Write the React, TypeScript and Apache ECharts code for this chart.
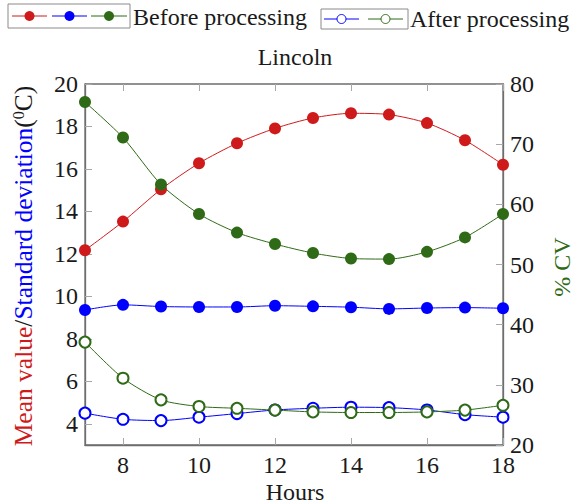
import React, { useEffect, useRef } from "react";
import * as echarts from "echarts";

const hours = [7, 8, 9, 10, 11, 12, 13, 14, 15, 16, 17, 18];
const meanBefore = [12.17, 13.52, 15.04, 16.27, 17.21, 17.91, 18.4, 18.62, 18.56, 18.16, 17.35, 16.2];
const sdBefore = [9.36, 9.6, 9.52, 9.5, 9.5, 9.56, 9.53, 9.49, 9.41, 9.45, 9.47, 9.44];
const cvBefore = [77.0, 71.1, 63.3, 58.4, 55.3, 53.4, 51.9, 51.0, 50.9, 52.1, 54.5, 58.4];
const sdAfter = [4.5, 4.21, 4.15, 4.31, 4.48, 4.65, 4.73, 4.78, 4.76, 4.65, 4.43, 4.31];
const cvAfter = [37.1, 31.1, 27.5, 26.4, 26.1, 25.8, 25.5, 25.4, 25.4, 25.5, 25.8, 26.6];
const xTicks = [8, 10, 12, 14, 16, 18];
const leftTicks = [4, 6, 8, 10, 12, 14, 16, 18, 20];

const RED = "#cf1a1c";
const BLUE = "#0000ff";
const GREEN = "#2f6b16";
const FONT = "Liberation Serif";
const AXIS = "#6e6e6e";
const TICK = "#a8a8a8";

export default function App() {
  const ref = useRef<HTMLDivElement>(null);
  useEffect(() => {
    if (!ref.current) return;
    const chart = echarts.init(ref.current, null, { renderer: "svg" });
    const pts = (ys: number[]) => hours.map((h, i) => [h, ys[i]]);
    const filled = (name: string, ys: number[], color: string, yi: number) => ({
      name,
      type: "line",
      yAxisIndex: yi,
      data: pts(ys),
      smooth: 0.25,
      symbol: "circle",
      symbolSize: 12,
      itemStyle: { color },
      lineStyle: { color, width: 1 },
    });
    const open = (name: string, ys: number[], color: string, yi: number) => ({
      name,
      type: "line",
      yAxisIndex: yi,
      data: pts(ys),
      smooth: 0.25,
      symbol: "emptyCircle",
      symbolSize: 11,
      itemStyle: { color, borderColor: color, borderWidth: 0.9 },
      lineStyle: { color, width: 1 },
    });
    const legendLine = (x1: number, x2: number, y: number, color: string, filledMark: boolean) => [
      { type: "line", shape: { x1, y1: y, x2, y2: y }, style: { stroke: color, lineWidth: 1 } },
      {
        type: "circle",
        shape: { cx: (x1 + x2) / 2, cy: y, r: filledMark ? 5 : 4.5 },
        style: filledMark ? { fill: color } : { fill: "#fff", stroke: color, lineWidth: 1 },
      },
    ];
    chart.setOption({
      animation: false,
      backgroundColor: "#fff",
      textStyle: { fontFamily: FONT },
      grid: { left: 85, right: 73, top: 84, bottom: 59, show: true, borderColor: AXIS, borderWidth: 1.3 },
      xAxis: [
        {
          type: "value",
          min: 7,
          max: 18,
          axisLine: { show: true, lineStyle: { color: AXIS, width: 1.3 } },
          axisTick: { inside: true, length: 7, customValues: xTicks, lineStyle: { color: TICK } },
          axisLabel: { customValues: xTicks, fontSize: 24, fontFamily: FONT, color: "#1a1a1a", margin: 8 },
          splitLine: { show: false },
        },
        {
          type: "value",
          position: "top",
          min: 7,
          max: 18,
          axisLine: { show: false },
          axisTick: { inside: true, length: 7, customValues: xTicks, lineStyle: { color: TICK } },
          axisLabel: { show: false },
          splitLine: { show: false },
        },
      ],
      yAxis: [
        {
          type: "value",
          min: 3,
          max: 20,
          position: "left",
          axisLine: { show: true, lineStyle: { color: AXIS, width: 1.3 } },
          axisTick: { inside: true, length: 7, customValues: leftTicks, lineStyle: { color: TICK } },
          axisLabel: { customValues: leftTicks, fontSize: 24, fontFamily: FONT, color: "#1a1a1a", margin: 7 },
          splitLine: { show: false },
        },
        {
          type: "value",
          min: 20,
          max: 80,
          interval: 10,
          position: "right",
          axisLine: { show: true, lineStyle: { color: AXIS, width: 1.3 } },
          axisTick: { inside: true, length: 7, lineStyle: { color: TICK } },
          axisLabel: { fontSize: 24, fontFamily: FONT, color: "#1a1a1a", margin: 7 },
          splitLine: { show: false },
        },
      ],
      series: [
        filled("Mean before", meanBefore, RED, 0),
        filled("SD before", sdBefore, BLUE, 0),
        filled("CV before", cvBefore, GREEN, 1),
        open("SD after", sdAfter, BLUE, 0),
        open("CV after", cvAfter, GREEN, 1),
      ],
      graphic: [
        { type: "rect", shape: { x: 8, y: 4, width: 122, height: 24 }, style: { fill: "none", stroke: "#8a8a8a", lineWidth: 1 } },
        ...legendLine(12, 47, 16, RED, true),
        ...legendLine(52, 87, 16, BLUE, true),
        ...legendLine(91, 127, 16, GREEN, true),
        { type: "text", x: 133, y: 17, style: { text: "Before processing", font: `24px "${FONT}"`, fill: "#1a1a1a", verticalAlign: "middle", align: "left" } },
        { type: "rect", shape: { x: 321, y: 9, width: 87, height: 20 }, style: { fill: "none", stroke: "#8a8a8a", lineWidth: 1 } },
        ...legendLine(324, 359, 19, BLUE, false),
        ...legendLine(368, 403, 19, GREEN, false),
        { type: "text", x: 410, y: 19, style: { text: "After processing", font: `24px "${FONT}"`, fill: "#1a1a1a", verticalAlign: "middle", align: "left" } },
        { type: "text", x: 295, y: 57, style: { text: "Lincoln", font: `24px "${FONT}"`, fill: "#1a1a1a", verticalAlign: "middle", align: "center" } },
        { type: "text", x: 295, y: 492, style: { text: "Hours", font: `24px "${FONT}"`, fill: "#1a1a1a", verticalAlign: "middle", align: "center" } },
        {
          type: "text",
          x: 23,
          y: 266,
          rotation: Math.PI / 2,
          style: {
            text: "{r|Mean value}{k|/}{b|Standard deviation}{k|(}{s|0}{k|C)}",
            align: "center",
            verticalAlign: "middle",
            rich: {
              r: { fill: RED, fontSize: 25.5, fontFamily: FONT },
              b: { fill: BLUE, fontSize: 25.5, fontFamily: FONT },
              k: { fill: "#1a1a1a", fontSize: 25.5, fontFamily: FONT },
              s: { fill: "#1a1a1a", fontSize: 16, fontFamily: FONT, verticalAlign: "top" },
            },
          },
        },
        {
          type: "text",
          x: 562,
          y: 267,
          rotation: Math.PI / 2,
          style: { text: "% CV", font: `24px "${FONT}"`, fill: GREEN, align: "center", verticalAlign: "middle" },
        },
      ],
    });
    return () => chart.dispose();
  }, []);
  return <div ref={ref} style={{ width: 576, height: 504, position: "absolute", left: 0, top: 0 }} />;
}
